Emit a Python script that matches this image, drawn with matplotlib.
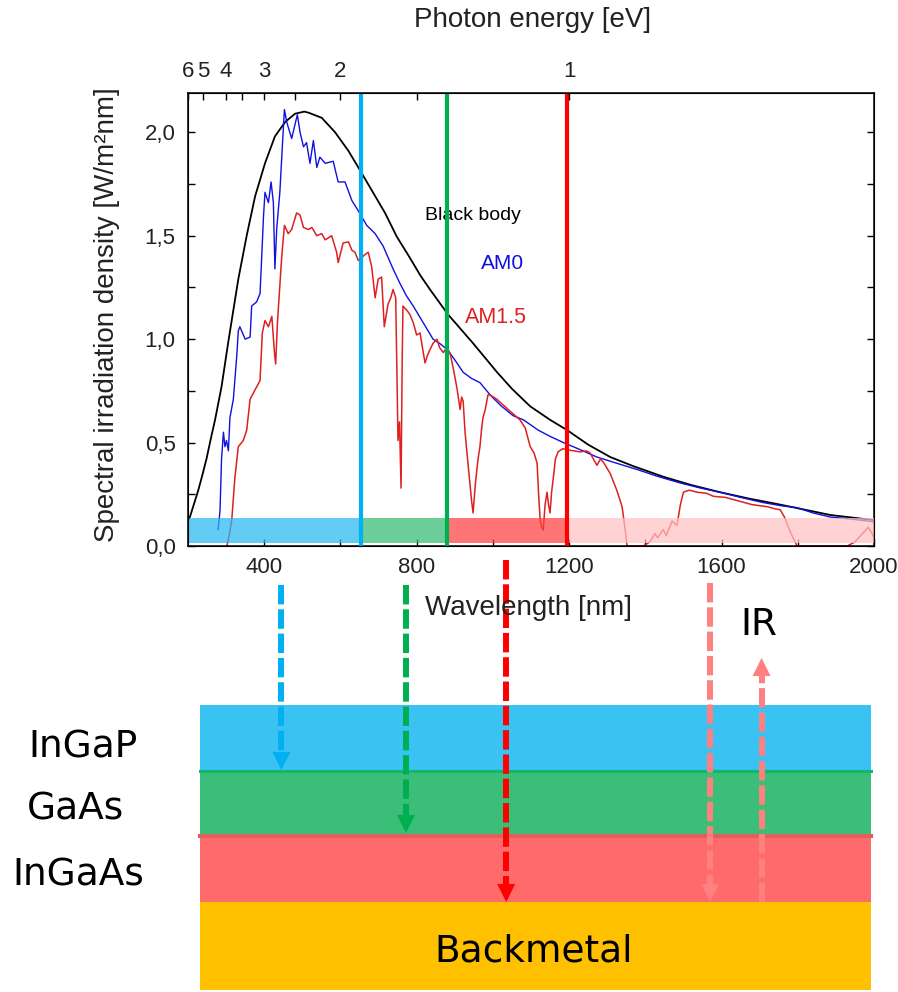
import matplotlib
matplotlib.use("Agg")
from matplotlib import pyplot as plt
from matplotlib import transforms
from matplotlib.patches import Rectangle

plt.rcParams["font.family"] = ["Liberation Sans", "DejaVu Sans"]
plt.rcParams["lines.scale_dashes"] = False

# spectra (nm, W/m2nm)
bb_nm = [201, 205, 216, 227, 238, 249, 260, 271, 288, 306, 332, 354, 376, 402, 428,
         455, 481, 505, 516, 551, 586, 621, 647, 682, 717, 748, 780, 809, 835, 882,
         948, 1011, 1050, 1098, 1150, 1195, 1250, 1308, 1370, 1447, 1520, 1596,
         1670, 1754, 1820, 1885, 2000]
bb_val = [0.126, 0.14, 0.205, 0.27, 0.345, 0.425, 0.52, 0.61, 0.77, 0.99, 1.29, 1.50,
          1.69, 1.85, 1.98, 2.05, 2.09, 2.10, 2.095, 2.07, 2.0, 1.91, 1.83, 1.72,
          1.61, 1.495, 1.40, 1.31, 1.24, 1.12, 0.98, 0.84, 0.76, 0.675, 0.61, 0.56,
          0.49, 0.43, 0.385, 0.335, 0.295, 0.26, 0.23, 0.2, 0.175, 0.15, 0.125]

am0_nm = [279, 284, 288, 293, 297, 301, 306, 310, 319, 328, 332, 336, 350, 363, 367,
          380, 389, 393, 398, 402, 411, 418, 424, 428, 433, 441, 446, 453, 459, 472,
          481, 487, 494, 503, 511, 520, 529, 538, 546, 560, 581, 594, 612, 630, 647,
          669, 691, 712, 738, 756, 773, 791, 817, 843, 860, 880, 900, 922, 944, 966,
          993, 1020, 1053, 1080, 1119, 1150, 1185, 1230, 1273, 1325, 1378, 1435,
          1491, 1545, 1596, 1650, 1709, 1755, 1798, 1840, 1885, 1940, 2000]
am0_val = [0.08, 0.17, 0.42, 0.55, 0.48, 0.51, 0.46, 0.62, 0.71, 0.92, 1.04, 1.06,
           1.0, 1.01, 1.16, 1.18, 1.22, 1.38, 1.59, 1.71, 1.66, 1.76, 1.66, 1.34,
           1.54, 1.71, 1.88, 2.11, 2.05, 1.97, 2.04, 2.085, 2.0, 1.93, 1.95, 1.85,
           1.96, 1.83, 1.88, 1.85, 1.86, 1.76, 1.76, 1.67, 1.62, 1.55, 1.51, 1.45,
           1.34, 1.27, 1.21, 1.16, 1.08, 1.0, 0.98, 0.95, 0.90, 0.84, 0.81, 0.79,
           0.73, 0.68, 0.63, 0.61, 0.56, 0.53, 0.50, 0.465, 0.43, 0.40, 0.37, 0.335,
           0.305, 0.28, 0.26, 0.235, 0.21, 0.195, 0.185, 0.16, 0.14, 0.13, 0.117]

am15_nm = [302, 309, 315, 323, 332, 345, 354, 363, 376, 389, 395, 402, 411, 420, 427,
           430, 435, 446, 453, 463, 472, 485, 494, 503, 516, 525, 538, 551, 560, 577,
           590, 594, 607, 621, 630, 638, 647, 665, 673, 682, 691, 699, 708, 715, 725,
           732, 738, 745, 751, 755, 759, 762, 764, 774, 782, 791, 800, 809, 815, 822,
           828, 835, 843, 853, 860, 870, 879, 888, 897, 906, 914, 918, 922, 927, 932,
           940, 944, 948, 954, 961, 966, 970, 974, 980, 987, 993, 1010, 1040, 1071,
           1085, 1098, 1108, 1116, 1120, 1124, 1128, 1132, 1137, 1142, 1146, 1150,
           1154, 1158, 1164, 1171, 1183, 1195, 1212, 1229, 1245, 1255, 1264, 1273,
           1282, 1290, 1308, 1325, 1339, 1347, 1352, 1395, 1412, 1425, 1432, 1447,
           1455, 1470, 1483, 1492, 1500, 1515, 1536, 1560, 1579, 1610, 1640, 1680,
           1720, 1740, 1754, 1765, 1780, 1798, 1930, 1950, 1970, 1985, 1995, 2000]
am15_val = [0.0, 0.06, 0.13, 0.33, 0.48, 0.51, 0.56, 0.71, 0.755, 0.80, 1.03, 1.09,
            1.06, 1.11, 0.93, 0.88, 1.09, 1.40, 1.55, 1.51, 1.53, 1.61, 1.60, 1.54,
            1.53, 1.54, 1.50, 1.51, 1.48, 1.50, 1.42, 1.37, 1.465, 1.47, 1.43, 1.42,
            1.38, 1.41, 1.42, 1.35, 1.20, 1.29, 1.30, 1.06, 1.17, 1.20, 1.24, 1.20,
            0.51, 0.60, 0.28, 0.90, 1.16, 1.14, 1.12, 1.08, 1.02, 1.03, 0.96, 0.885,
            0.92, 0.95, 0.98, 1.0, 0.96, 0.935, 0.96, 0.93, 0.85, 0.76, 0.66, 0.72,
            0.70, 0.55, 0.45, 0.30, 0.22, 0.16, 0.30, 0.42, 0.48, 0.56, 0.62, 0.66,
            0.73, 0.73, 0.71, 0.66, 0.61, 0.57, 0.48, 0.45, 0.40, 0.25, 0.126, 0.09,
            0.077, 0.20, 0.26, 0.20, 0.16, 0.26, 0.32, 0.42, 0.455, 0.47, 0.465,
            0.46, 0.455, 0.46, 0.45, 0.42, 0.39, 0.42, 0.405, 0.35, 0.27, 0.19, 0.08,
            0.0, 0.0, 0.02, 0.06, 0.04, 0.08, 0.05, 0.12, 0.10, 0.20, 0.26, 0.27,
            0.26, 0.255, 0.24, 0.235, 0.22, 0.20, 0.19, 0.18, 0.175, 0.14, 0.07, 0.0,
            0.0, 0.02, 0.06, 0.09, 0.06, 0.04]

# absorption bands of the three junctions
band_edges = [200, 655, 880, 1194, 2000]
band_colors = ["#29baf1", "#35bd72", "#ff4040", "#ffc3c3"]
cutoff_nm = [655, 880, 1194]
cutoff_colors = ["#00b0f0", "#00b050", "#ff0000"]

x_major = [400, 800, 1200, 1600, 2000]
x_minor = [600, 1000, 1400, 1800]
y_major = [0.0, 0.5, 1.0, 1.5, 2.0]
y_labels = ["0,0", "0,5", "1,0", "1,5", "2,0"]
y_minor = [0.25, 0.75, 1.25, 1.75]
ev_major = [6, 5, 4, 3, 2, 1]
ev_minor = [3.5, 2.5, 1.5]
NM_PER_EV = 1200  # the reference's energy scale is laid out this way

# layer stack below the chart
layer_names = ["InGaP", "GaAs", "InGaAs", "Backmetal"]
layer_colors = ["#3ac2f2", "#3bbf78", "#ff6b6b", "#ffc000"]
layer_edges = [705, 771, 836, 902, 990]  # pixel rows
arrow_nm = [445, 772, 1035, 1570, 1705]
arrow_start = [585, 585, 560, 583, 902]
arrow_tip = [770, 833, 902, 902, 658]
arrow_colors = ["#00b0f0", "#00b050", "#ff0000", "#ff8080", "#ff8080"]

W, H = 898, 992
fig = plt.figure(figsize=(W / 100, H / 100), dpi=100)
ax = fig.add_axes([188 / W, 1 - 546 / H, 686 / W, 453 / H])

ax.plot(bb_nm, bb_val, color="black", lw=1.3, zorder=2)
ax.plot(am0_nm, am0_val, color="#1010e0", lw=1.0, zorder=2)
ax.plot(am15_nm, am15_val, color="#dd2020", lw=1.1, zorder=2)

for lo, hi, c in zip(band_edges[:-1], band_edges[1:], band_colors):
    ax.fill_between([lo, hi], 0.015, 0.135, color=c, alpha=0.73, lw=0, zorder=3)
for x, c in zip(cutoff_nm, cutoff_colors):
    ax.axvline(x, color=c, lw=3, zorder=4)

ax.text(822, 1.60, "Black body", color="black", fontsize=14, va="center")
ax.text(969, 1.365, "AM0", color="#1010e0", fontsize=15, va="center")
ax.text(927, 1.107, "AM1.5", color="#dd2020", fontsize=15.5, va="center")

ax.set_xlim(200, 2000)
ax.set_ylim(0, 2.19)
ax.set_xticks(x_major)
ax.set_xticks(x_minor, minor=True)
ax.set_yticks(y_major, y_labels)
ax.set_yticks(y_minor, minor=True)
ax.tick_params(which="both", direction="in", top=False, right=True,
               labelsize=16, labelcolor="#222222", width=1, length=5)
ax.tick_params(axis="x", pad=8)
ax.tick_params(axis="y", pad=9)
for s in ax.spines.values():
    s.set_linewidth(1.1)

ax.set_xlabel("Wavelength [nm]", fontsize=20, color="#222222", va="center")
ax.xaxis.set_label_coords(0.497, -0.137)
ax.set_ylabel("Spectral irradiation density [W/m²nm]", fontsize=20,
              color="#222222", va="center")
ax.yaxis.set_label_coords(-0.118, 0.51)

top = ax.twiny()
top.set_xlim(ax.get_xlim())
top.set_xticks([NM_PER_EV / e for e in ev_major], [str(e) for e in ev_major])
top.set_xticks([NM_PER_EV / e for e in ev_minor], minor=True)
top.tick_params(which="both", direction="in", length=5, width=1, pad=8,
                labelsize=16, labelcolor="#222222")
top.set_xlabel("Photon energy [eV]", fontsize=20, color="#222222", va="center")
top.xaxis.set_label_coords(0.503, 1.161)

# schematic of the cell, pixel rows, x of arrows in wavelength
dg = fig.add_axes([0, 0, 1, 1], zorder=-1)
dg.set_xlim(0, W)
dg.set_ylim(H, 0)
dg.axis("off")
for name, c, y0, y1 in zip(layer_names, layer_colors, layer_edges[:-1], layer_edges[1:]):
    dg.add_patch(Rectangle((200, y0), 671, y1 - y0, color=c, lw=0))
dg.plot([200, 871], [771, 771], color="#10b86e", lw=2.2)
dg.plot([200, 871], [836, 836], color="#e0605a", lw=3)

text_kw = dict(family="DejaVu Sans", fontsize=27, color="black", va="baseline")
dg.text(28, 757, layer_names[0], **text_kw)
dg.text(27, 820, layer_names[1], **text_kw)
dg.text(12, 885, layer_names[2], **text_kw)
dg.text(534, 961, layer_names[3], ha="center", **text_kw)
dg.text(740, 635, "IR", **text_kw)

blend = transforms.blended_transform_factory(ax.transData, dg.transData)
head = 18
for x, y0, y1, c in zip(arrow_nm, arrow_start, arrow_tip, arrow_colors):
    step = head if y1 > y0 else -head
    dg.plot([x, x], [y0, y1 - step], color=c, lw=4.3, dashes=(14, 3.5),
            solid_capstyle="butt", transform=blend)
    dg.annotate("", xy=(x, y1), xytext=(x, y1 - step), xycoords=blend, textcoords=blend,
                arrowprops=dict(arrowstyle="-|>,head_length=1.3,head_width=0.65",
                                color=c, lw=0, shrinkA=0, shrinkB=0))

fig.savefig("out.png", dpi=100)
plt.close(fig)
